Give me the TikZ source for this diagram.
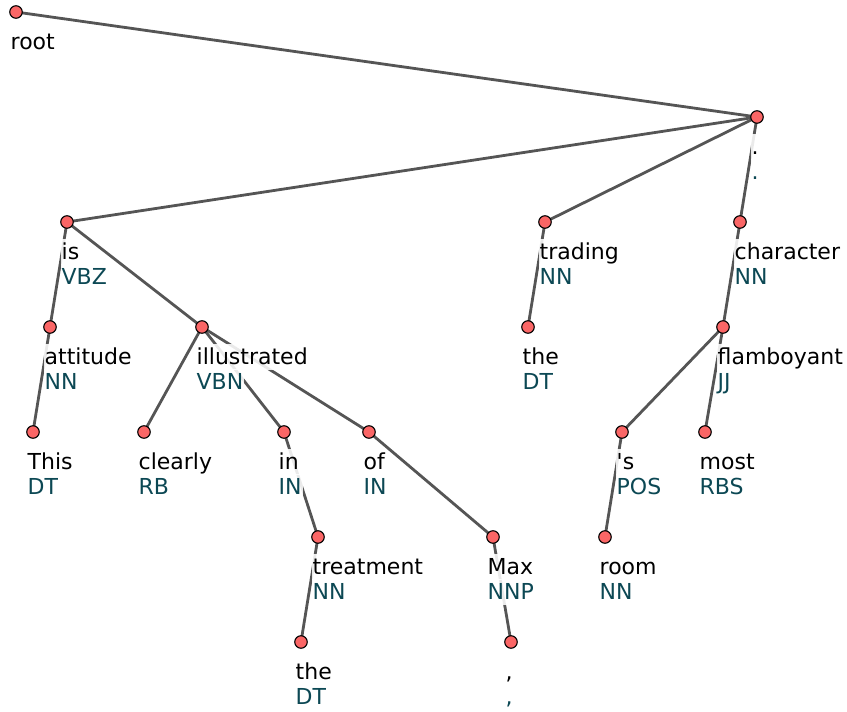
\documentclass[tikz,border=0pt]{standalone}
\usepackage{fontspec}
\setmainfont{DejaVu Sans}[Ligatures=TeXOff]
\usetikzlibrary{backgrounds}
\definecolor{tokfill}{RGB}{250,102,102}
\definecolor{edgegray}{RGB}{85,85,85}
\definecolor{tagteal}{RGB}{12,72,84}
\tikzset{
  tok/.style={circle, draw=black, line width=1.1pt, fill=tokfill, minimum size=12.5pt, inner sep=0pt},
  edge/.style={draw=edgegray, line width=2.8pt},
  lbl/.style={anchor=base west, fill=white, fill opacity=0.88, text opacity=1,
    inner xsep=1pt, inner ysep=2pt, text height=18pt, text depth=4pt,
    font=\fontsize{22}{26}\selectfont},
  wordlbl/.style={lbl, text=black},
  taglbl/.style={lbl, text=tagteal},
}
% token: name, x, y, word, tag
\newcommand{\tokennode}[5]{%
  \node[tok] (#1) at (#2,#3) {};
  \node[wordlbl] (#1-w) at ([xshift=-6.5pt,yshift=-37pt]#1.center) {#4};
  \node[taglbl] (#1-t) at ([xshift=-6.5pt,yshift=-62pt]#1.center) {#5};
}
\begin{document}
\begin{tikzpicture}[x=1pt, y=-1pt]
  \useasboundingbox (0,0) rectangle (847,712);
  % root
  \node[tok] (root) at (16,12) {};
  \node[wordlbl] (root-w) at ([xshift=-6.5pt,yshift=-37pt]root.center) {root};
  % tokens
  \tokennode{dot}{757}{117}{.}{.}
  \tokennode{is}{67}{222}{is}{VBZ}
  \tokennode{trading}{545}{222}{trading}{NN}
  \tokennode{character}{740}{222}{character}{NN}
  \tokennode{attitude}{50}{327}{attitude}{NN}
  \tokennode{illustrated}{202}{327}{illustrated}{VBN}
  \tokennode{theA}{528}{327}{the}{DT}
  \tokennode{flamboyant}{723}{327}{flamboyant}{JJ}
  \tokennode{This}{33}{432}{This}{DT}
  \tokennode{clearly}{144}{432}{clearly}{RB}
  \tokennode{in}{284}{432}{in}{IN}
  \tokennode{of}{369}{432}{of}{IN}
  \tokennode{poss}{622}{432}{'s}{POS}
  \tokennode{most}{705}{432}{most}{RBS}
  \tokennode{treatment}{318}{537}{treatment}{NN}
  \tokennode{Max}{493}{537}{Max}{NNP}
  \tokennode{room}{605}{537}{room}{NN}
  \tokennode{theB}{301}{642}{the}{DT}
  \tokennode{comma}{511}{642}{,}{,}
  % dependency arcs
  \begin{pgfonlayer}{background}
    \foreach \a/\b in {root/dot, dot/is, dot/trading, dot/character,
        is/attitude, is/illustrated, attitude/This,
        illustrated/clearly, illustrated/in, illustrated/of,
        in/treatment, treatment/theB, of/Max, Max/comma,
        trading/theA, character/flamboyant,
        flamboyant/poss, flamboyant/most, poss/room}
      \draw[edge] (\a.center) -- (\b.center);
  \end{pgfonlayer}
\end{tikzpicture}
\end{document}
